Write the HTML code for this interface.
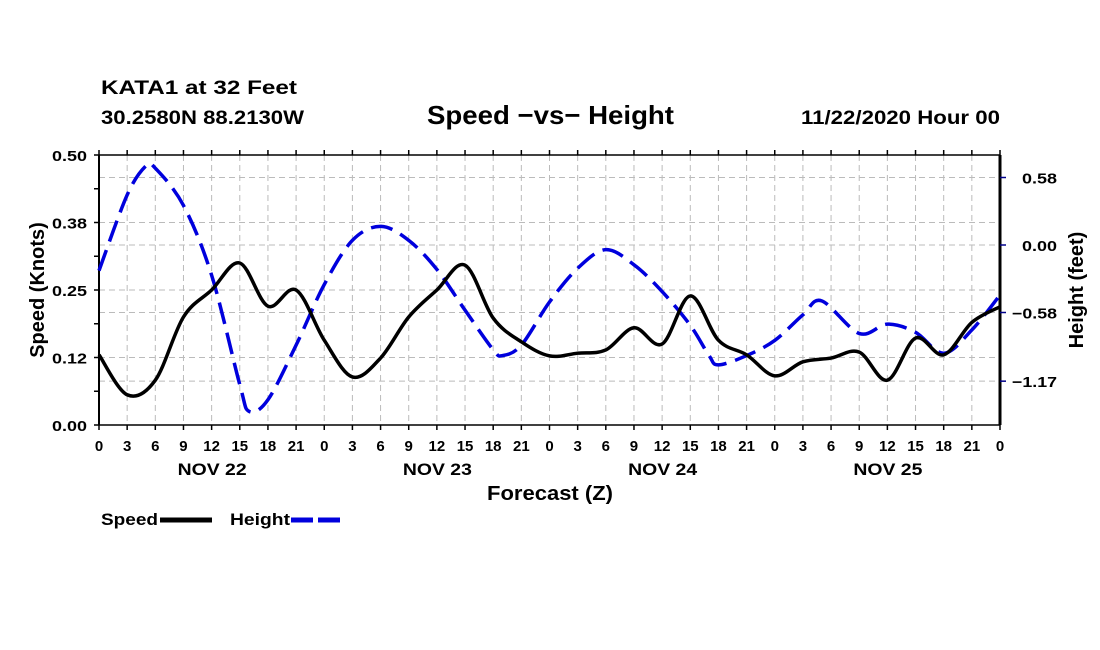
<!DOCTYPE html>
<html><head><meta charset="utf-8"><style>
body{margin:0;background:#fff;}
svg{display:block;font-family:"Liberation Sans",sans-serif;font-weight:bold;}
</style></head><body>
<svg id="chart" width="1100" height="650" viewBox="0 0 1100 650">
<text x="101" y="94" font-size="19" textLength="196" lengthAdjust="spacingAndGlyphs">KATA1 at 32 Feet</text>
<text x="101" y="124" font-size="19" textLength="203" lengthAdjust="spacingAndGlyphs">30.2580N 88.2130W</text>
<text x="427" y="124" font-size="26" textLength="247" lengthAdjust="spacingAndGlyphs">Speed −vs− Height</text>
<text x="801" y="124" font-size="19" textLength="199" lengthAdjust="spacingAndGlyphs">11/22/2020 Hour 00</text>
<g id="grid"></g>
<g id="axes"></g>
<g id="series"></g>
<text x="487" y="500" font-size="20" textLength="126" lengthAdjust="spacingAndGlyphs">Forecast (Z)</text>
<text transform="translate(44,290) rotate(-90)" font-size="20" text-anchor="middle">Speed (Knots)</text>
<text transform="translate(1083,290) rotate(-90)" font-size="20" text-anchor="middle">Height (feet)</text>
<g>
<text x="101" y="525" font-size="17" textLength="57" lengthAdjust="spacingAndGlyphs">Speed</text>
<line x1="160" y1="520" x2="212" y2="520" stroke="#000" stroke-width="5"/>
</g>
<g>
<text x="230" y="525" font-size="17" textLength="60" lengthAdjust="spacingAndGlyphs">Height</text>
<line x1="291" y1="520" x2="343" y2="520" stroke="#0000dd" stroke-width="5" stroke-dasharray="22,5"/>
</g>
</svg>
<script>
const hours=[0,3,6,9,12,15,18,21,24,27,30,33,36,39,42,45,48,51,54,57,60,63,66,69,72,75,78,81,84,87,90,93,96];
const speedValues=[0.13,0.056,0.083,0.2,0.25,0.30,0.22,0.25,0.157,0.089,0.124,0.2,0.25,0.296,0.198,0.154,0.128,0.133,0.139,0.18,0.15,0.239,0.157,0.13,0.091,0.117,0.124,0.135,0.083,0.161,0.13,0.19,0.219];
const heightHours=[0,3,5,6,9,12,15,16,18,21,24,27,30,33,36,39,42,43,45,48,51,54,57,60,63,65,66,69,72,75,77,81,84,87,90,93,96];
const heightValues=[-0.22,0.43,0.68,0.66,0.34,-0.26,-1.2,-1.43,-1.33,-0.86,-0.34,0.04,0.16,0.04,-0.21,-0.56,-0.9,-0.95,-0.86,-0.49,-0.2,-0.04,-0.17,-0.40,-0.69,-0.95,-1.03,-0.95,-0.82,-0.6,-0.48,-0.76,-0.68,-0.75,-0.93,-0.73,-0.43];
const leftTicks=[0,0.125,0.25,0.375,0.5];
const leftLabels=["0.00","0.12","0.25","0.38","0.50"];
const rightTicks=[0.58,0,-0.58,-1.17];
const rightLabels=["0.58","0.00","−0.58","−1.17"];
const dayLabels=["NOV 22","NOV 23","NOV 24","NOV 25"];

const X0=99,X1=1000,Y0=425,Y1=155;
const xs=h=>X0+h/96*(X1-X0);
const yL=v=>Y0-v/0.5*(Y0-Y1);
const yR=v=>245-v/0.58*67.5;
const NS="http://www.w3.org/2000/svg";
function mk(parent,tag,attrs){const e=document.createElementNS(NS,tag);for(const k in attrs)e.setAttribute(k,attrs[k]);document.getElementById(parent).appendChild(e);return e;}

for(let h=3;h<96;h+=3){const e=mk('grid','line',{x1:xs(h),x2:xs(h),y1:Y1,y2:Y0,stroke:'#bbb','stroke-dasharray':'6,4','stroke-width':1});

}
[0.375,0.25,0.125].forEach(v=>{const e=mk('grid','line',{x1:X0,x2:X1,y1:yL(v),y2:yL(v),stroke:'#bbb','stroke-dasharray':'6,4'});

});
rightTicks.forEach(v=>{const e=mk('grid','line',{x1:X0,x2:X1,y1:yR(v),y2:yR(v),stroke:'#bbb','stroke-dasharray':'6,4'});

});

mk('axes','line',{x1:X0,x2:X0,y1:Y1,y2:Y0,stroke:'#000','stroke-width':2});
mk('axes','line',{x1:X1,x2:X1,y1:Y1,y2:Y0,stroke:'#000','stroke-width':3});
mk('axes','line',{x1:X0,x2:X1,y1:Y1,y2:Y1,stroke:'#000','stroke-width':1.5});
mk('axes','line',{x1:X0,x2:X1,y1:Y0,y2:Y0,stroke:'#000','stroke-width':1.5});
for(let v=0;v<=0.5001;v+=0.0625){mk('axes','line',{x1:X0-5,x2:X0,y1:yL(v),y2:yL(v),stroke:'#000','stroke-width':1.5});}
leftTicks.forEach((v,i)=>{const t=mk('axes','text',{x:52,y:yL(v)+6,'font-size':15,textLength:35,lengthAdjust:'spacingAndGlyphs'});t.textContent=leftLabels[i];

});
rightTicks.forEach((v,i)=>{mk('axes','line',{x1:X1,x2:X1+6,y1:yR(v),y2:yR(v),stroke:'#000088','stroke-width':1.5});
const neg=v<0;
const t=mk('axes','text',{x:neg?1012:1022,y:yR(v)+6,'font-size':15,textLength:neg?45:35,lengthAdjust:'spacingAndGlyphs'});t.textContent=rightLabels[i];

});
for(let h=0;h<=96;h+=3){mk('axes','line',{x1:xs(h),x2:xs(h),y1:Y0,y2:Y0+5,stroke:'#000','stroke-width':1.5});
mk('axes','line',{x1:xs(h),x2:xs(h),y1:Y1,y2:Y1-5,stroke:'#000','stroke-width':1.5});
const t=mk('axes','text',{x:xs(h),y:451,'font-size':15,'text-anchor':'middle'});t.textContent=String(h%24);

}
dayLabels.forEach((d,i)=>{const t=mk('axes','text',{x:xs(i*24+12)-34,y:475,'font-size':17,textLength:69,lengthAdjust:'spacingAndGlyphs'});t.textContent=d;

});

function smooth(pts){let d=`M${pts[0][0]},${pts[0][1]}`;
for(let i=0;i<pts.length-1;i++){const p0=pts[Math.max(0,i-1)],p1=pts[i],p2=pts[i+1],p3=pts[Math.min(pts.length-1,i+2)];
const c1=[p1[0]+(p2[0]-p0[0])/6,p1[1]+(p2[1]-p0[1])/6],c2=[p2[0]-(p3[0]-p1[0])/6,p2[1]-(p3[1]-p1[1])/6];
d+=` C${c1[0]},${c1[1]} ${c2[0]},${c2[1]} ${p2[0]},${p2[1]}`;}return d;}

const hp=mk('series','path',{d:smooth(heightHours.map((h,i)=>[xs(h),yR(heightValues[i])])),fill:'none',stroke:'#0000dd','stroke-width':3.5,'stroke-dasharray':'22,9'});


const sp=mk('series','path',{d:smooth(hours.map((h,i)=>[xs(h),yL(speedValues[i])])),fill:'none',stroke:'#000','stroke-width':3.5});


</script>
</body></html>
